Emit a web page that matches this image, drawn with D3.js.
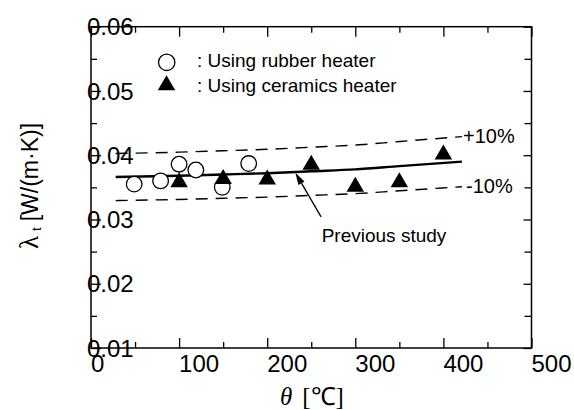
<!DOCTYPE html>
<html>
<head>
<meta charset="utf-8">
<script src="https://cdn.jsdelivr.net/npm/d3@7/dist/d3.min.js"></script>
<style>
  html, body { margin: 0; padding: 0; background: #fff; }
  svg { display: block; }
  .sans { font-family: "Liberation Sans", Arial, Helvetica, sans-serif; }
  .serif { font-family: "Liberation Serif", "Times New Roman", serif; }
</style>
</head>
<body>
<svg id="chart" width="574" height="410"></svg>
<script>
// Temperature θ [°C] and thermal conductivity λt [W/(m·K)]
const rubberTheta   = [49, 79, 100, 119, 149, 179];
const rubberLambda  = [0.0355, 0.0360, 0.0386, 0.0377, 0.0350, 0.0387];
const ceramicTheta  = [100, 150, 200, 250, 300, 350, 400];
const ceramicLambda = [0.0362, 0.0367, 0.0366, 0.0389, 0.0355, 0.0362, 0.0405];

// Correlation from the previous study
const prevTheta  = [28, 100, 150, 200, 250, 300, 350, 421];
const prevLambda = [0.0366, 0.0368, 0.0370, 0.0372, 0.0375, 0.0378, 0.0383, 0.0390];
const bandFraction = 0.10;   // ±10 % band around the correlation

// Axis ticks
const xMajorTicks = [0, 100, 200, 300, 400, 500];
const xMinorTicks = [50, 150, 250, 350, 450];
const yMajorTicks = [0.01, 0.02, 0.03, 0.04, 0.05, 0.06];
const yMinorTicks = [0.015, 0.025, 0.035, 0.045, 0.055];

// Arrow pointing at the correlation curve
const arrowTarget = { theta: 232, lambda: 0.03726 };

const svg = d3.select("#chart");
svg.append("rect").attr("width", 574).attr("height", 410).attr("fill", "#fff");

const x = d3.scaleLinear().domain([0, 500]).range([91, 531.5]);
const y = d3.scaleLinear().domain([0.01, 0.06]).range([348, 26.7]);
const [x0, x1] = x.range();
const [y0, y1] = y.range();

// Ticks (all drawn inward)
function ticks(axis, values, size, transform) {
  svg.append("g").attr("transform", transform)
    .call(axis.tickValues(values).tickSize(size).tickSizeOuter(0).tickFormat(""))
    .call(g => g.select(".domain").remove())
    .call(g => g.selectAll("line").attr("stroke", "#000").attr("stroke-width", 1.3));
}
ticks(d3.axisBottom(x), xMajorTicks, -10, `translate(0,${y0})`);
ticks(d3.axisBottom(x), xMinorTicks, -6, `translate(0,${y0})`);
ticks(d3.axisTop(x), xMajorTicks, -10, `translate(0,${y1})`);
ticks(d3.axisTop(x), xMinorTicks, -6, `translate(0,${y1})`);
ticks(d3.axisLeft(y), yMajorTicks, -10, `translate(${x0},0)`);
ticks(d3.axisLeft(y), yMinorTicks, -6, `translate(${x0},0)`);
ticks(d3.axisRight(y), yMajorTicks, -8, `translate(${x1},0)`);
ticks(d3.axisRight(y), yMinorTicks, -7, `translate(${x1},0)`);

// Frame
svg.append("rect")
  .attr("x", x0).attr("y", y1).attr("width", x1 - x0).attr("height", y0 - y1)
  .attr("fill", "none").attr("stroke", "#000").attr("stroke-width", 1.5);

// Correlation curve and ±10 % band
const line = d3.line().x(d => x(d[0])).y(d => y(d[1])).curve(d3.curveMonotoneX);
const prev = prevTheta.map((t, i) => [t, prevLambda[i]]);
const upper = prev.map(d => [d[0], d[1] * (1 + bandFraction)]);
const lower = prev.map(d => [d[0], d[1] * (1 - bandFraction)]);

svg.append("path").datum(upper).attr("d", line)
  .attr("fill", "none").attr("stroke", "#000").attr("stroke-width", 1.4)
  .attr("stroke-dasharray", "12,8");
svg.append("path").datum(lower).attr("d", line)
  .attr("fill", "none").attr("stroke", "#000").attr("stroke-width", 1.4)
  .attr("stroke-dasharray", "12,8");
svg.append("path").datum(prev).attr("d", line)
  .attr("fill", "none").attr("stroke", "#000").attr("stroke-width", 2.4);

// Markers
const triW = 17.5, triH = 15;
const triPath = `M0,${-triH / 2}L${triW / 2},${triH / 2}L${-triW / 2},${triH / 2}Z`;

svg.append("g").selectAll("circle")
  .data(rubberTheta.map((t, i) => [t, rubberLambda[i]]))
  .join("circle")
  .attr("cx", d => x(d[0])).attr("cy", d => y(d[1])).attr("r", 7.8)
  .attr("fill", "#fff").attr("stroke", "#000").attr("stroke-width", 1.3);

svg.append("g").selectAll("path")
  .data(ceramicTheta.map((t, i) => [t, ceramicLambda[i]]))
  .join("path")
  .attr("d", triPath)
  .attr("transform", d => `translate(${x(d[0])},${y(d[1])})`)
  .attr("fill", "#000");

// Tick labels
svg.append("g").attr("class", "sans").selectAll("text")
  .data(yMajorTicks).join("text")
  .attr("x", 87).attr("y", d => y(d)).attr("dy", "0.36em")
  .attr("font-size", 24).attr("fill", "#000")
  .text(d3.format(".2f"));

svg.append("g").attr("class", "sans").selectAll("text")
  .data(xMajorTicks).join("text")
  .attr("x", d => x(d)).attr("y", 371.7)
  .attr("font-size", 24).attr("fill", "#000")
  .text(d => d);

// Axis titles
const xt = svg.append("text").attr("class", "serif")
  .attr("x", 280).attr("y", 405).attr("font-size", 25).attr("fill", "#000");
xt.append("tspan").attr("font-style", "italic").text("θ");
xt.append("tspan").attr("dx", 10).text("[℃]");

const yt = svg.append("text")
  .attr("transform", "translate(38,186) rotate(-90)")
  .attr("text-anchor", "middle").attr("fill", "#000");
yt.append("tspan").attr("class", "serif").attr("font-size", 27).text("λ");
yt.append("tspan").attr("class", "sans").attr("font-size", 13).attr("dx", 5).attr("dy", 3).text("t");
yt.append("tspan").attr("class", "sans").attr("font-size", 23).attr("dx", 6).attr("dy", -3).text("[W/(m·K)]");

// Legend
const legend = svg.append("g").attr("class", "sans");
legend.append("circle").attr("cx", 166.7).attr("cy", 62.3).attr("r", 8.2)
  .attr("fill", "#fff").attr("stroke", "#000").attr("stroke-width", 1.3);
legend.append("path").attr("d", triPath).attr("transform", "translate(166.5,82.7)").attr("fill", "#000");
legend.append("text").attr("x", 197).attr("y", 67.3).attr("font-size", 19).text(":  Using rubber heater");
legend.append("text").attr("x", 197).attr("y", 91.7).attr("font-size", 19).text(":  Using ceramics heater");

// Band labels
svg.append("text").attr("class", "sans").attr("x", 463).attr("y", 143.3)
  .attr("font-size", 20).text("+10%");
svg.append("text").attr("class", "sans").attr("x", 466).attr("y", 193.3)
  .attr("font-size", 20).text("-10%");

// Annotation arrow
const tip = [x(arrowTarget.theta), y(arrowTarget.lambda)];
const tail = [tip[0] + 25.7, tip[1] + 44];
const ang = Math.atan2(tip[1] - tail[1], tip[0] - tail[0]);
const headLen = 12, headHalf = 3.5;
const bx = tip[0] - headLen * Math.cos(ang), by = tip[1] - headLen * Math.sin(ang);
svg.append("line")
  .attr("x1", tail[0]).attr("y1", tail[1]).attr("x2", bx).attr("y2", by)
  .attr("stroke", "#000").attr("stroke-width", 1.3);
svg.append("path")
  .attr("d", `M${tip[0]},${tip[1]}L${bx + headHalf * Math.sin(ang)},${by - headHalf * Math.cos(ang)}L${bx - headHalf * Math.sin(ang)},${by + headHalf * Math.cos(ang)}Z`)
  .attr("fill", "#000");
svg.append("text").attr("class", "sans").attr("x", 321.7).attr("y", 241.7)
  .attr("font-size", 19).text("Previous study");
</script>
</body>
</html>
